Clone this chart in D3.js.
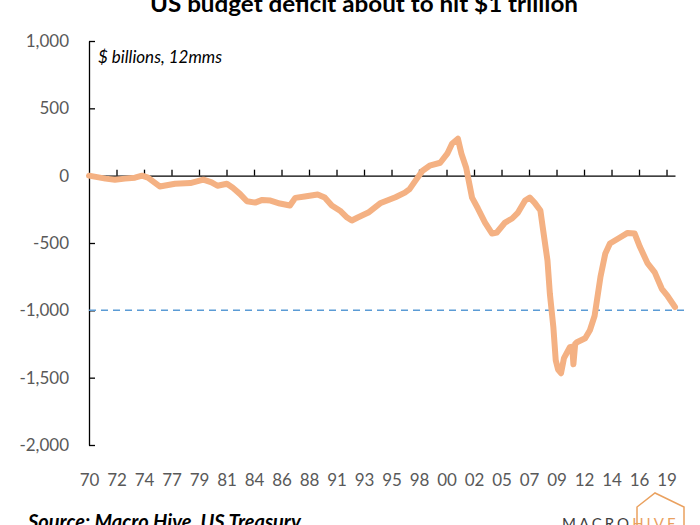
<!DOCTYPE html>
<html>
<head>
<meta charset="utf-8">
<script src="https://cdn.jsdelivr.net/npm/d3@7"></script>
<style>
  body { margin: 0; background: #fff; }
  svg { display: block; }
  .tick text { fill: #595959; font-family: Lato, "Open Sans", sans-serif; font-size: 17px; }
  .axis path, .axis line { stroke: #000; stroke-width: 1.3px; }
</style>
</head>
<body>
<svg id="chart" width="700" height="525"></svg>
<script>
'use strict';
//Chart data ($ billions, 12 month moving sum).
const years = [1970.0, 1971.4, 1972.2, 1973.05, 1973.9, 1974.5, 1975.0, 1976.0, 1977.3, 1978.6,
	1979.7, 1980.4, 1980.9, 1981.7, 1982.2, 1982.8, 1983.4, 1984.1, 1984.7, 1985.4,
	1986.2, 1987.05, 1987.5, 1988.3, 1989.4, 1990.0, 1990.6, 1991.3, 1991.9, 1992.3,
	1992.8, 1993.7, 1994.7, 1996.0, 1996.8, 1997.2, 1997.7, 1998.3, 1998.9, 1999.8,
	2000.4, 2000.8, 2001.3, 2001.6, 2002.0, 2002.3, 2002.5, 2003.0, 2003.6, 2004.2,
	2004.6, 2005.3, 2005.9, 2006.4, 2007.0, 2007.4, 2007.8, 2008.3, 2008.5, 2008.9,
	2009.1, 2009.4, 2009.6, 2009.8, 2010.05, 2010.3, 2010.8, 2011.0, 2011.1, 2011.25,
	2011.4, 2012.1, 2012.5, 2012.9, 2013.4, 2013.8, 2014.2, 2015.05, 2015.7, 2016.3,
	2016.75, 2017.4, 2018.0, 2018.6, 2019.1, 2019.72];
const deficit = [0, -22, -30, -22, -15, 0, -15, -80, -60, -55,
	-30, -50, -75, -60, -90, -135, -190, -200, -180, -185,
	-207, -222, -165, -155, -140, -163, -222, -260, -311, -333,
	-311, -274, -205, -160, -126, -100, -37, 37, 74, 96,
	163, 237, 274, 163, 59, -74, -163, -244, -348, -430,
	-422, -348, -318, -274, -185, -163, -200, -259, -385, -630,
	-874, -1126, -1370, -1440, -1467, -1355, -1274, -1270, -1400, -1250,
	-1237, -1207, -1148, -1040, -750, -580, -504, -459, -425, -430,
	-530, -652, -718, -840, -895, -975];
const xLabels = ['70', '72', '74', '77', '79', '81', '84', '86', '88', '91', '93',
	'95', '98', '00', '02', '05', '07', '09', '12', '14', '16', '19'];
const labelStepMonths = 28; //Excel shows one label every 28 months.
const yTicks = [1000, 500, 0, -500, -1000, -1500, -2000];
const threshold = -1000;

const svg = d3.select('#chart');
const x = d3.scaleLinear().domain([1970, 2019.72]).range([89, 675]);
const y = d3.scaleLinear().domain([-2000, 1000]).range([445, 41]);
const xTickVals = xLabels.map((d, i) => 1970 + i * labelStepMonths / 12);
const fmt = d3.format(',');

//Title, cut at the top edge like the picture.
svg.append('text')
	.attr('x', 150)
	.attr('y', 12)
	.attr('textLength', 428)
	.attr('lengthAdjust', 'spacingAndGlyphs')
	.style('font-family', 'Lato, "Open Sans", sans-serif')
	.style('font-weight', 'bold')
	.style('font-size', '23px')
	.text('US budget deficit about to hit $1 trillion');

//Y axis, ticks pointing inward, labels on the left.
const yAxis = svg.append('g')
	.attr('class', 'axis')
	.attr('transform', 'translate(89,0)')
	.call(d3.axisRight(y).tickValues(yTicks).tickSize(6).tickSizeOuter(0)
		.tickFormat(d => fmt(d).replace('\u2212', '-')));
yAxis.selectAll('.tick text')
	.attr('x', -20)
	.attr('text-anchor', 'end');

//X axis sits on the zero line, ticks pointing up, labels at the bottom.
const xAxis = svg.append('g')
	.attr('class', 'axis')
	.attr('transform', 'translate(0,' + y(0) + ')')
	.call(d3.axisTop(x).tickValues(xTickVals).tickSize(6).tickSizeOuter(0)
		.tickFormat((d, i) => xLabels[i]));
xAxis.selectAll('.tick')
	.filter((d, i) => i === 0)
	.select('line').remove();
xAxis.selectAll('.tick text')
	.attr('y', 480 - y(0))
	.attr('dy', '0.35em')
	.attr('text-anchor', 'middle');

svg.append('text')
	.attr('x', 98)
	.attr('y', 63)
	.style('font-family', 'Lato, "Open Sans", sans-serif')
	.style('font-style', 'italic')
	.style('font-size', '17px')
	.text('$ billions, 12mms');

//Dashed $1 trillion line.
svg.append('line')
	.attr('x1', x(1970))
	.attr('x2', 684)
	.attr('y1', y(threshold))
	.attr('y2', y(threshold))
	.style('stroke', '#5B9BD5')
	.style('stroke-width', '1.5px')
	.style('stroke-dasharray', '7,5');

//Deficit series.
const line = d3.line()
	.x((d, i) => x(years[i]))
	.y(d => y(d));
svg.append('path')
	.datum(deficit)
	.attr('d', line)
	.style('fill', 'none')
	.style('stroke', '#F4B183')
	.style('stroke-width', '6px')
	.style('stroke-linejoin', 'round')
	.style('stroke-linecap', 'round');

//Footer: source and logo, cut at the bottom edge.
svg.append('text')
	.attr('x', 28)
	.attr('y', 529)
	.style('font-family', 'Lato, "Open Sans", sans-serif')
	.style('font-style', 'italic')
	.style('font-weight', 'bold')
	.style('font-size', '20px')
	.text('Source: Macro Hive, US Treasury');

svg.append('path')
	.attr('d', 'M637,526 L637,507 L655,493 L684,507 L684,526')
	.style('fill', 'none')
	.style('stroke', '#EAA15F')
	.style('stroke-width', '1.5px');
const logo = svg.append('text')
	.attr('x', 562)
	.attr('y', 529)
	.style('font-family', 'Lato, "Open Sans", sans-serif')
	.style('font-size', '15px')
	.style('letter-spacing', '3px');
logo.append('tspan').style('fill', '#404040').text('MACRO');
logo.append('tspan').style('fill', '#EAA15F').text('HIVE');
</script>
</body>
</html>
